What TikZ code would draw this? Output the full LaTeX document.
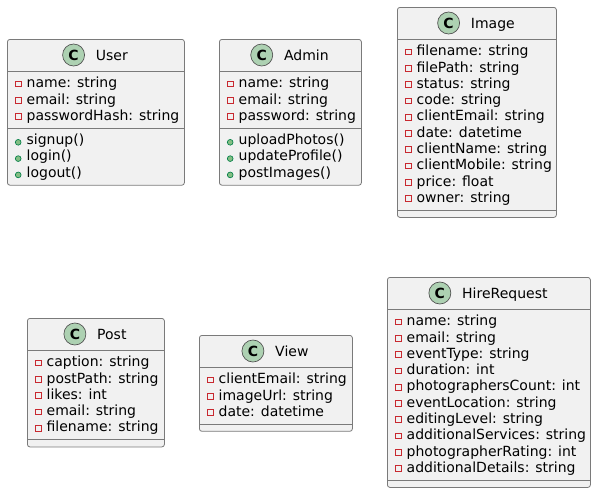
\documentclass[tikz,border=0pt]{standalone}
\usepackage{fontspec}
\setmainfont{DejaVu Sans}
\definecolor{boxfill}{HTML}{F1F1F1}
\definecolor{boxline}{HTML}{7A7A7A}
\definecolor{spotline}{HTML}{505050}
\definecolor{spotfill}{HTML}{ADD1B2}
\definecolor{privred}{HTML}{C82930}
\definecolor{pubfill}{HTML}{84BE84}
\definecolor{publine}{HTML}{038048}
\tikzset{
  classbox/.style={draw=boxline, fill=boxfill, line width=0.6pt, rounded corners=1.9pt, inner sep=0pt, anchor=north west},
  sepline/.style={draw=boxline, line width=0.6pt},
  rowtext/.style={anchor=base west, inner sep=0pt, font=\fontsize{10.5pt}{12pt}\selectfont},
  titletext/.style={anchor=base, inner sep=0pt, font=\fontsize{10.5pt}{12pt}\selectfont},
  spot/.style={circle, draw=spotline, fill=spotfill, line width=0.5pt, minimum size=16.5pt, inner sep=0pt, anchor=east, font=\fontsize{10.5pt}{12pt}\selectfont\bfseries},
  privicon/.style={rectangle, draw=privred, line width=0.6pt, minimum size=4.3pt, inner sep=0pt},
  pubicon/.style={circle, draw=publine, fill=pubfill, line width=0.5pt, minimum size=4.3pt, inner sep=0pt}
}
\newcommand{\umlclass}[9]{%
  \pgfmathsetmacro{\usepA}{#3+32}
  \pgfmathsetmacro{\usepB}{\usepA+#6*16.3+8}
  \pgfmathsetmacro{\ubottom}{#8==0 ? \usepB+7 : \usepB+#8*16.3+8}
  \pgfmathsetmacro{\umidx}{(#2+#4)/2}
  \pgfmathsetmacro{\uwid}{(#4-#2)*0.75}
  \pgfmathsetmacro{\uhei}{(\ubottom-#3)*0.75}
  \node[classbox, minimum width=\uwid pt, minimum height=\uhei pt] (#1) at (#2,#3) {};
  \draw[sepline] (#2,\usepA) -- (#4,\usepA);
  \draw[sepline] (#2,\usepB) -- (#4,\usepB);
  \node[titletext] (#1-t) at ({\umidx+16.35},{#3+21}) {#5};
  \coordinate (#1-hy) at (0,{#3+16});
  \coordinate (#1-tw) at ([xshift=-8.03pt]#1-t.base west);
  \node[spot] (#1-c) at (#1-tw |- #1-hy) {C};
  \foreach \a [count=\i] in {#7} {
    \node[rowtext] (#1-a\i) at ({#2+19.4},{\usepA+16.7+(\i-1)*16.3}) {\a};
    \node[privicon] (#1-ai\i) at ({#2+11.2},{\usepA+12.9+(\i-1)*16.3}) {};
  }
  \ifnum#8>0
  \foreach \a [count=\i] in {#9} {
    \node[rowtext] (#1-m\i) at ({#2+19.4},{\usepB+16.7+(\i-1)*16.3}) {\a};
    \node[pubicon] (#1-mi\i) at ({#2+11.2},{\usepB+14.4+(\i-1)*16.3}) {};
  }
  \fi
}
\begin{document}
\begin{tikzpicture}[x=0.75pt,y=-0.75pt]
\useasboundingbox (0,0) rectangle (596,494);
\umlclass{user}{7}{39}{184}{User}{3}{name: string, email: string, passwordHash: string}{3}{signup(), login(), logout()}
\umlclass{admin}{219}{39}{361}{Admin}{3}{name: string, email: string, password: string}{3}{uploadPhotos(), updateProfile(), postImages()}
\umlclass{image}{397}{7}{556}{Image}{10}{filename: string, filePath: string, status: string, code: string, clientEmail: string, date: datetime, clientName: string, clientMobile: string, price: float, owner: string}{0}{}
\umlclass{post}{27}{318}{164}{Post}{5}{caption: string, postPath: string, likes: int, email: string, filename: string}{0}{}
\umlclass{view}{199}{335}{352}{View}{3}{clientEmail: string, imageUrl: string, date: datetime}{0}{}
\umlclass{hire}{387}{277}{590}{HireRequest}{10}{name: string, email: string, eventType: string, duration: int, photographersCount: int, eventLocation: string, editingLevel: string, additionalServices: string, photographerRating: int, additionalDetails: string}{0}{}
\end{tikzpicture}
\end{document}
